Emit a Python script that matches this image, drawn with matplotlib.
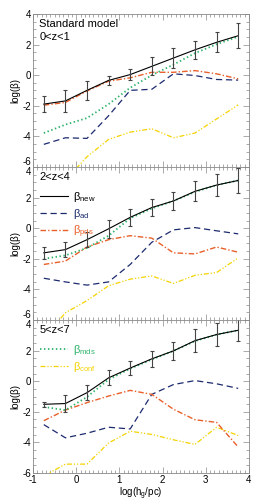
import numpy as np
import matplotlib
matplotlib.use("Agg")
import matplotlib.pyplot as plt
from matplotlib.ticker import MultipleLocator
from matplotlib.lines import Line2D

plt.rcParams['font.family'] = ['Liberation Sans', 'DejaVu Sans']
plt.rcParams['mathtext.fontset'] = 'custom'
plt.rcParams['mathtext.rm'] = 'Liberation Sans'
plt.rcParams['mathtext.it'] = 'Liberation Sans'
plt.rcParams['axes.unicode_minus'] = False

# ---- data ----
log_h = [-0.75, -0.25, 0.25, 0.75, 1.25, 1.75, 2.25, 2.75, 3.25, 3.75]

z_labels = ["0<z<1", "2<z<4", "5<z<7"]

beta_new = [
    [-1.89, -1.68, -0.99, -0.34, 0.04, 0.58, 1.12, 1.66, 2.15, 2.58],
    [-1.61, -1.40, -0.75, -0.04, 0.71, 1.35, 1.78, 2.41, 2.82, 3.12],
    [-1.51, -1.46, -0.75, 0.22, 0.86, 1.46, 1.98, 2.65, 3.05, 3.33],
]
beta_new_err = [
    [0.50, 0.70, 0.62, 0.30, 0.38, 0.58, 0.65, 0.57, 0.65, 0.80],
    [0.40, 0.50, 0.47, 0.60, 0.55, 0.56, 0.57, 0.65, 0.71, 0.80],
    [0.15, 0.55, 0.48, 0.48, 0.45, 0.54, 0.60, 0.75, 0.75, 0.72],
]
beta_ad = [
    [-4.52, -4.09, -4.13, -2.65, -0.99, -0.92, 0.09, -0.02, -0.28, -0.32],
    [-3.27, -3.51, -3.72, -3.51, -2.37, -0.92, -0.11, 0.04, -0.17, -0.37],
    [-2.84, -3.70, -3.40, -3.01, -3.12, -0.86, -0.22, 0.04, -0.17, -0.47],
]
beta_pds = [
    [-1.96, -1.78, -1.03, -0.39, -0.17, 0.19, 0.19, 0.30, 0.09, -0.24],
    [-2.37, -2.15, -1.23, -0.75, -0.49, -0.65, -1.61, -1.68, -1.23, -1.57],
    [-2.58, -1.89, -1.40, -0.97, -0.60, -0.86, -1.83, -2.52, -2.69, -4.30],
]
beta_mds = [
    [-3.78, -3.23, -2.80, -1.89, -0.82, 0.00, 0.69, 1.44, 2.02, 2.52],
    [-2.00, -1.78, -1.29, -0.49, 0.65, 1.29, 1.78, 2.37, 2.82, 3.12],
    [-1.68, -1.89, -1.03, 0.11, 0.82, 1.42, 1.98, 2.62, 3.05, 3.33],
]
beta_conf = [
    [-7.5, -6.85, -5.33, -4.20, -3.72, -3.50, -4.09, -3.78, -2.86, -1.94],
    [-7.2, -5.53, -4.73, -3.76, -3.33, -3.12, -3.61, -3.08, -2.90, -1.94],
    [-6.2, -5.42, -5.42, -4.04, -3.27, -3.48, -3.83, -4.13, -3.01, -3.55],
]

# ---- style ----
c_new = 'black'
c_ad = '#1c2a6e'
c_pds = '#e8602a'
c_mds = '#2fb36a'
c_conf = '#f5d300'

W, H = 258, 504
fig = plt.figure(figsize=(W / 100, H / 100), dpi=100)

left, right = 33, 249
tops = [14, 167, 320]
ph = 153

axes = []
for i in range(3):
    ax = fig.add_axes([left / W, 1 - (tops[i] + ph) / H, (right - left) / W, ph / H])
    axes.append(ax)
    x = log_h
    ax.plot(x, beta_conf[i], color=c_conf, lw=0.9, dashes=(4, 1.5, 1, 1.5, 1, 1.5))
    ax.plot(x, beta_ad[i], color=c_ad, lw=0.9, dashes=(5, 3))
    ax.plot(x, beta_pds[i], color=c_pds, lw=1.0, dashes=(4, 1.5, 1, 1.5))
    ax.plot(x, beta_mds[i], color=c_mds, lw=1.3, dashes=(0.8, 1.4))
    ax.plot(x, beta_new[i], color=c_new, lw=0.8)
    ax.errorbar(x, beta_new[i], yerr=beta_new_err[i], fmt='none', ecolor='#444444',
                elinewidth=0.8, capsize=1.4, capthick=0.8)

    ax.set_xlim(-1, 4)
    ax.set_ylim(-6, 4)
    ax.xaxis.set_major_locator(MultipleLocator(1))
    ax.xaxis.set_minor_locator(MultipleLocator(0.1))
    ax.yaxis.set_major_locator(MultipleLocator(2))
    ax.yaxis.set_minor_locator(MultipleLocator(0.5))
    ax.tick_params(which='both', direction='in', top=True, right=True,
                   labelsize=7, color='#888888', pad=1.5)
    ax.tick_params(which='major', length=4, width=0.5)
    ax.tick_params(which='minor', length=2, width=0.5)
    for sp in ax.spines.values():
        sp.set_linewidth(0.6)
        sp.set_color('#888888')
    ax.set_ylabel('log(β)', fontsize=7, labelpad=1)
    if i < 2:
        ax.tick_params(labelbottom=False)

axes[0].text(0.03, 0.97, "Standard model", transform=axes[0].transAxes,
             fontsize=8, va='top', ha='left')
axes[0].text(0.03, 0.885, z_labels[0], transform=axes[0].transAxes,
             fontsize=8, va='top', ha='left')
axes[1].text(0.03, 0.97, z_labels[1], transform=axes[1].transAxes,
             fontsize=8, va='top', ha='left')
axes[2].text(0.03, 0.97, z_labels[2], transform=axes[2].transAxes,
             fontsize=8, va='top', ha='left')

h_new = Line2D([], [], color=c_new, lw=0.8)
h_ad = Line2D([], [], color=c_ad, lw=0.9, dashes=(5, 3))
h_pds = Line2D([], [], color=c_pds, lw=1.0, dashes=(4, 1.5, 1, 1.5))
h_mds = Line2D([], [], color=c_mds, lw=1.3, dashes=(0.8, 1.4))
h_conf = Line2D([], [], color=c_conf, lw=0.9, dashes=(4, 1.5, 1, 1.5, 1, 1.5))

leg_kw = dict(loc='upper left', frameon=False, fontsize=8, handlelength=2.6,
              handletextpad=0.4, labelspacing=0.25, borderaxespad=0,
              labelcolor='linecolor')
axes[1].legend([h_new, h_ad, h_pds],
               [r'$\beta_{\rm new}$', r'$\beta_{\rm ad}$', r'$\beta_{\rm pds}$'],
               bbox_to_anchor=(0.01, 0.88), **leg_kw)
axes[2].legend([h_mds, h_conf],
               [r'$\beta_{\rm mds}$', r'$\beta_{\rm conf}$'],
               bbox_to_anchor=(0.01, 0.88), **leg_kw)

axes[2].set_xlabel(r'log(h$_{\rm g}$/pc)', fontsize=7, labelpad=0.5)

# keep the shared-edge labels (-6 below, 4 above) from sitting on each other
fig.canvas.draw()
for i, ax in enumerate(axes):
    for tick in ax.yaxis.get_major_ticks():
        loc = tick.get_loc()
        if i < 2 and abs(loc + 6) < 1e-6:
            tick.label1.set_verticalalignment('bottom')
        if i > 0 and abs(loc - 4) < 1e-6:
            tick.label1.set_verticalalignment('top')

fig.savefig('out.png', dpi=100)
